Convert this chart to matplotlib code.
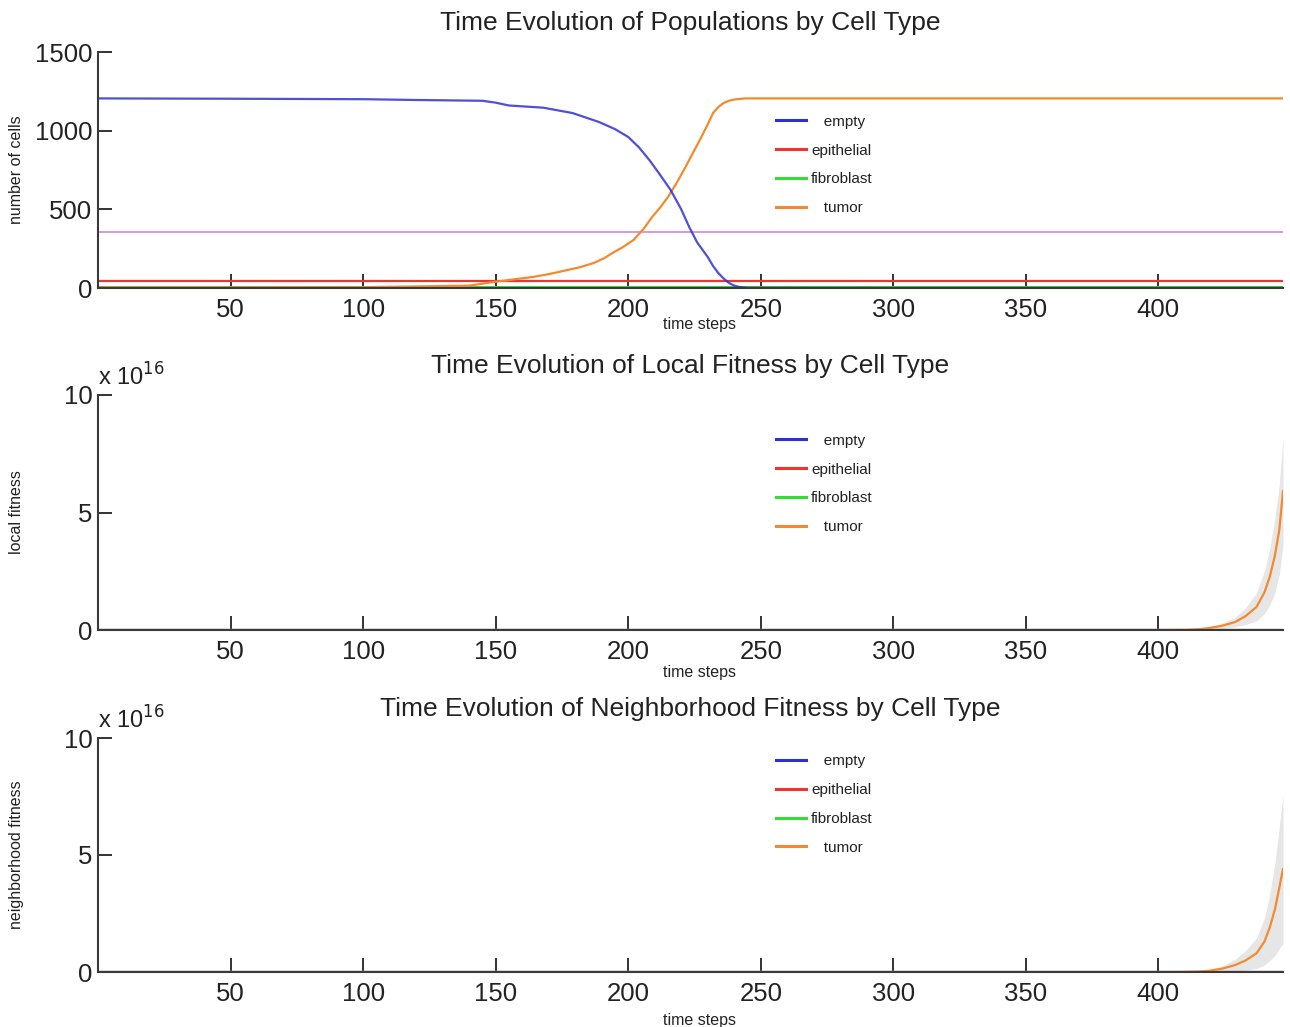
import matplotlib
matplotlib.use("Agg")
import matplotlib.pyplot as plt
import numpy as np
from matplotlib.ticker import FuncFormatter

plt.rcParams['font.family'] = ['Liberation Sans', 'DejaVu Sans']

# ---------------- data ----------------
cell_types = ['empty', 'epithelial', 'fibroblast', 'tumor']
colors = {'empty': '#3030d0', 'epithelial': '#ee3333', 'fibroblast': '#33dd33',
          'tumor': '#f28a2e', 'threshold': '#d49be0'}

# populations
t_empty = [0, 50, 100, 120, 145, 150, 155, 168, 179, 189, 195, 200, 204, 208,
           212, 216, 220, 223, 226, 230, 232, 234, 236, 238, 240, 242, 245, 300, 447]
pop_empty = [1205, 1203, 1200, 1195, 1190, 1178, 1160, 1146, 1112, 1055, 1010,
             960, 895, 813, 720, 623, 500, 388, 290, 197, 140, 95, 60, 32, 15,
             6, 1, 0, 0]
t_tumor = [0, 100, 140, 150, 157, 164, 170, 177, 182, 187, 191, 194, 198, 202,
           206, 209, 212, 215, 218, 221, 224, 227, 230, 232, 234, 236, 238, 240,
           244, 260, 447]
pop_tumor = [3, 5, 15, 40, 55, 70, 88, 114, 133, 159, 190, 222, 260, 305, 380,
             451, 510, 578, 660, 750, 845, 940, 1040, 1112, 1150, 1176, 1190,
             1198, 1205, 1205, 1205]
t_const = [0, 447]
pop_epithelial = [42, 42]
pop_fibroblast = [8, 8]
pop_threshold = [355, 355]

# fitness (tumor only non-zero)
t_fit = [0, 400, 410, 415, 419, 424, 429, 433, 437, 440, 442, 444, 445.6, 447]
local_tumor = [0, 0, 0.005e16, 0.03e16, 0.08e16, 0.18e16, 0.34e16, 0.6e16,
               0.98e16, 1.6e16, 2.26e16, 3.2e16, 4.26e16, 5.9e16]
local_tumor_sd = [0, 0, 0.003e16, 0.02e16, 0.05e16, 0.11e16, 0.2e16, 0.36e16,
                  0.6e16, 0.9e16, 1.2e16, 1.6e16, 1.9e16, 2.3e16]
neigh_tumor = [0, 0, 0.004e16, 0.02e16, 0.05e16, 0.14e16, 0.3e16, 0.5e16,
               0.8e16, 1.3e16, 1.9e16, 2.7e16, 3.6e16, 4.4e16]
neigh_tumor_sd = [0, 0, 0.003e16, 0.02e16, 0.05e16, 0.12e16, 0.25e16, 0.42e16,
                  0.65e16, 1.0e16, 1.4e16, 2.0e16, 2.6e16, 3.2e16]
fit_zero = [0, 0]

x_ticks = [50, 100, 150, 200, 250, 300, 350, 400]

# ---------------- figure ----------------
fig = plt.figure(figsize=(12.9, 10.27), dpi=100)
W, H = 1290, 1027

def axes_px(left, right, top, bottom):
    return fig.add_axes([left / W, (H - bottom) / H, (right - left) / W, (bottom - top) / H])

ax1 = axes_px(98, 1283, 52, 288)
ax2 = axes_px(98, 1283, 395, 630)
ax3 = axes_px(98, 1283, 738, 972)

def style(ax, title, ylabel, xlabel_y, leg_y):
    for s in ['top', 'right']:
        ax.spines[s].set_visible(False)
    for s in ['left', 'bottom']:
        ax.spines[s].set_color('#3a3a3a')
        ax.spines[s].set_linewidth(1.5)
    ax.set_xlim(0, 447)
    ax.set_xticks(x_ticks)
    ax.tick_params(axis='both', direction='in', labelsize=18.5, colors='#222222',
                   width=1.3)
    ax.tick_params(axis='x', length=10, pad=7)
    ax.tick_params(axis='y', length=10, pad=4)
    ax.set_title(title, fontsize=19, pad=16, color='#222222')
    ax.set_ylabel(ylabel, fontsize=11.5, color='#222222')
    ax.yaxis.set_label_coords(-0.0625, 0.5)
    ax.set_xlabel('time steps', fontsize=11.5, color='#222222')
    ax.xaxis.set_label_coords(0.5075, xlabel_y)
    handles = [plt.Line2D([], [], color=colors[c], lw=2.2) for c in cell_types]
    labels = ['   empty', 'epithelial', 'fibroblast', '   tumor']
    leg = ax.legend(handles, labels, loc='upper left', bbox_to_anchor=(0.572, leg_y),
                    frameon=False, fontsize=11, handlelength=2.0,
                    handletextpad=0.3, labelspacing=0.98, borderpad=0,
                    borderaxespad=0)
    for t in leg.get_texts():
        t.set_color('#222222')

# top panel
ax1.plot(t_const, pop_threshold, color=colors['threshold'], lw=1.4)
ax1.plot(t_const, pop_epithelial, color=colors['epithelial'], lw=1.6)
ax1.plot(t_const, pop_fibroblast, color=colors['fibroblast'], lw=2.2)
ax1.plot(t_tumor, pop_tumor, color=colors['tumor'], lw=1.6)
ax1.plot(t_empty, pop_empty, color=colors['empty'], lw=1.6, alpha=0.85)
ax1.set_ylim(0, 1500)
ax1.set_yticks([0, 500, 1000, 1500])
style(ax1, 'Time Evolution of Populations by Cell Type', 'number of cells', -0.125, 0.735)

def fitness_panel(ax, mean, sd, title, ylabel, xlabel_y, leg_y):
    mean = np.array(mean)
    sd = np.array(sd)
    ax.fill_between(t_fit, mean - sd, mean + sd, color='#e6e6e6', lw=0)
    for c in ['empty', 'epithelial', 'fibroblast']:
        ax.plot(t_const, fit_zero, color=colors[c], lw=1.5)
    ax.plot(t_fit, mean, color=colors['tumor'], lw=1.6)
    ax.plot(t_const, fit_zero, color=colors['threshold'], lw=1.6)
    ax.set_ylim(0, 10e16)
    ax.set_yticks([0, 5e16, 10e16])
    ax.yaxis.set_major_formatter(FuncFormatter(lambda v, p: f'{v / 1e16:g}'))
    ax.text(0.0, 1.02, r'x 10$^{16}$', transform=ax.transAxes, fontsize=17,
            ha='left', va='bottom', color='#222222')
    style(ax, title, ylabel, xlabel_y, leg_y)

fitness_panel(ax2, local_tumor, local_tumor_sd,
              'Time Evolution of Local Fitness by Cell Type', 'local fitness', -0.15, 0.836)
fitness_panel(ax3, neigh_tumor, neigh_tumor_sd,
              'Time Evolution of Neighborhood Fitness by Cell Type', 'neighborhood fitness', -0.177, 0.932)

fig.savefig('out.png', dpi=100, facecolor='white')
